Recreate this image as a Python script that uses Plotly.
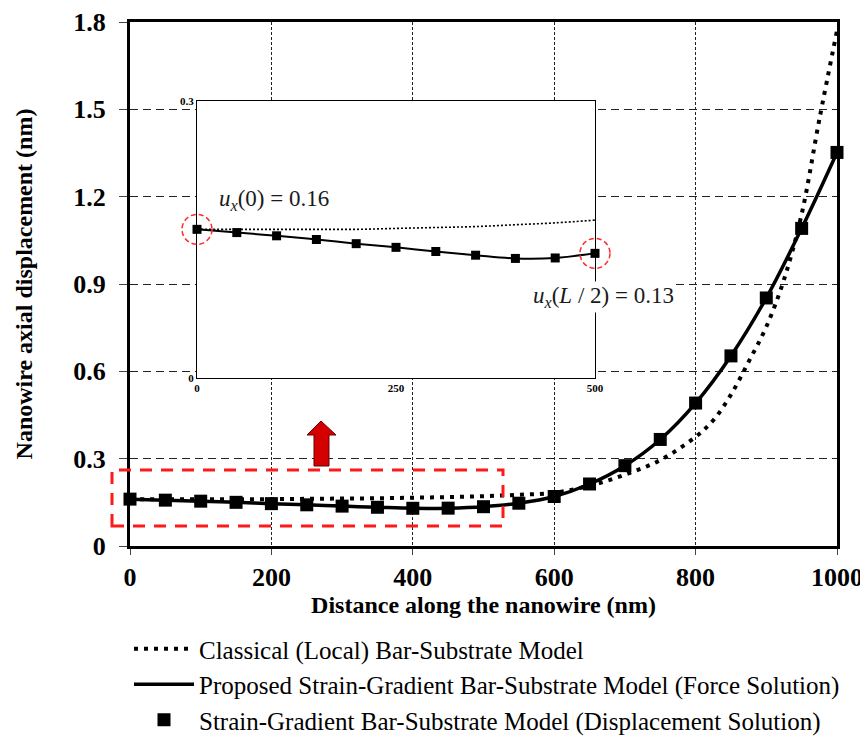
import plotly.graph_objects as go

# ---------------- data ----------------
classical_x = [0, 50, 100, 150, 200, 250, 300, 350, 400, 450, 500, 550, 600, 650,
               700, 750, 800, 825, 850, 875, 900, 925, 950, 975, 1000]
classical_y = [0.161, 0.161, 0.161, 0.161, 0.161, 0.162, 0.163, 0.164, 0.166, 0.168,
               0.171, 0.176, 0.183, 0.207, 0.245, 0.295, 0.375, 0.432, 0.520, 0.633,
               0.753, 0.915, 1.140, 1.465, 1.770]

force_x = [0, 50, 100, 150, 200, 250, 300, 350, 400, 450, 500, 550, 600, 650, 700,
           750, 800, 850, 900, 950, 1000]
force_y = [0.161, 0.1575, 0.154, 0.150, 0.1455, 0.1415, 0.137, 0.133, 0.1295, 0.130,
           0.135, 0.147, 0.170, 0.213, 0.276, 0.366, 0.491, 0.653, 0.852, 1.091, 1.352]

disp_x = [0, 50, 100, 150, 200, 250, 300, 350, 400, 450, 500, 550, 600, 650, 700,
          750, 800, 850, 900, 950, 1000]
disp_y = [0.161, 0.1575, 0.154, 0.150, 0.1455, 0.1415, 0.137, 0.133, 0.1295, 0.130,
          0.135, 0.147, 0.170, 0.213, 0.276, 0.366, 0.491, 0.653, 0.852, 1.091, 1.352]

x_ticks = [0, 200, 400, 600, 800, 1000]
x_ticklabels = ["0", "200", "400", "600", "800", "1000"]
y_ticks = [0, 0.3, 0.6, 0.9, 1.2, 1.5, 1.8]
y_ticklabels = ["0", "0.3", "0.6", "0.9", "1.2", "1.5", "1.8"]

inset_x_ticks = [0, 250, 500]
inset_x_ticklabels = ["0", "250", "500"]
inset_y_ticks = [0, 0.3]
inset_y_ticklabels = ["0", "0.3"]
inset_x_max = 500
inset_y_max = 0.3

names = ["Classical (Local) Bar-Substrate Model",
         "Proposed Strain-Gradient Bar-Substrate Model (Force Solution)",
         "Strain-Gradient Bar-Substrate Model (Displacement Solution)"]

# ---------------- layout geometry ----------------
OFF = 8                      # page body margin
W, H = 868 - OFF, 738 - OFF
ML, MT = 130 - OFF, 22 - OFF
MR = W - (837 - OFF)
MB = H - (546 - OFF)
PW, PH = W - ML - MR, H - MT - MB


def pp(px, py):
    """screen pixel -> paper coordinates"""
    fx, fy = px - OFF, py - OFF
    return (fx - ML) / PW, (H - MB - fy) / PH


FONT = "Liberation Serif, Times New Roman, serif"

inset_x0, inset_y1 = pp(197, 101)
inset_x1, inset_y0 = pp(595, 378)


def inset_to_paper(x, y):
    return (inset_x0 + x / inset_x_max * (inset_x1 - inset_x0),
            inset_y0 + y / inset_y_max * (inset_y1 - inset_y0))


fig = go.Figure()

# main traces
fig.add_trace(go.Scatter(x=classical_x, y=classical_y, mode="lines", name=names[0],
                         line=dict(color="black", width=4, dash="4px,6px", shape="spline"),
                         cliponaxis=False, legendgroup="a"))
fig.add_trace(go.Scatter(x=force_x, y=force_y, mode="lines", name=names[1],
                         line=dict(color="black", width=3.5, shape="spline"),
                         cliponaxis=False, legendgroup="b"))
fig.add_trace(go.Scatter(x=disp_x, y=disp_y, mode="markers", name=names[2],
                         marker=dict(symbol="square", size=13, color="black"),
                         cliponaxis=False, legendgroup="c"))

# inset traces
ins_c = [(x, y) for x, y in zip(classical_x, classical_y) if x <= inset_x_max]
ins_f = [(x, y) for x, y in zip(force_x, force_y) if x <= inset_x_max]
ins_d = [(x, y) for x, y in zip(disp_x, disp_y) if x <= inset_x_max]
fig.add_trace(go.Scatter(x=[p[0] for p in ins_c], y=[p[1] for p in ins_c], mode="lines",
                         line=dict(color="black", width=1.6, dash="2px,2px", shape="spline"),
                         xaxis="x2", yaxis="y2", showlegend=False, cliponaxis=False))
fig.add_trace(go.Scatter(x=[p[0] for p in ins_f], y=[p[1] for p in ins_f], mode="lines",
                         line=dict(color="black", width=2, shape="spline"),
                         xaxis="x2", yaxis="y2", showlegend=False, cliponaxis=False))
fig.add_trace(go.Scatter(x=[p[0] for p in ins_d], y=[p[1] for p in ins_d], mode="markers",
                         marker=dict(symbol="square", size=9, color="black"),
                         xaxis="x2", yaxis="y2", showlegend=False, cliponaxis=False))

shapes = []
# white background of the inset (covers main grid)
shapes.append(dict(type="rect", xref="x2", yref="y2", x0=0, x1=inset_x_max, y0=0, y1=inset_y_max,
                   fillcolor="white", line=dict(width=0), layer="below"))
# red dashed highlight rectangle in main plot
rx0, ry0 = pp(112, 526)
rx1, ry1 = pp(503, 470)
shapes.append(dict(type="rect", xref="paper", yref="paper", x0=rx0, x1=rx1, y0=ry0, y1=ry1,
                   line=dict(color="#ff1a1a", width=3, dash="12px,9px"), layer="above"))
# red arrow
pts = [(321, 421), (336, 435), (329, 435), (329, 466), (314, 466), (314, 435), (307, 435)]
path = "M " + " L ".join(f"{pp(a, b)[0]:.5f},{pp(a, b)[1]:.5f}" for a, b in pts) + " Z"
shapes.append(dict(type="path", xref="paper", yref="paper", path=path,
                   fillcolor="#d40000", line=dict(color="#6b0000", width=1), layer="above"))
# dashed circles in inset at the two highlighted values
for xa, ya in [(force_x[0], force_y[0]), (ins_f[-1][0], ins_f[-1][1])]:
    cx, cy = inset_to_paper(xa, ya)
    shapes.append(dict(type="circle", xref="paper", yref="paper", xsizemode="pixel",
                       ysizemode="pixel", xanchor=cx, yanchor=cy, x0=-15, x1=15, y0=-15, y1=15,
                       line=dict(color="#ff2a2a", width=1.5, dash="5px,3px"), layer="above"))

annotations = [
    dict(xref="x2", yref="y2", x=25, y=0.193, xanchor="left", yanchor="middle",
         text="<i>u</i><sub><i>x</i></sub>(0) = 0.16", showarrow=False,
         font=dict(family=FONT, size=23, color="#1a1a1a")),
    dict(xref="x2", yref="y2", x=420, y=0.0877, xanchor="left", yanchor="middle",
         text="<i>u</i><sub><i>x</i></sub>(<i>L</i> / 2) = 0.13", showarrow=False,
         bgcolor="white", font=dict(family=FONT, size=23, color="#1a1a1a")),
]

lgx, lgy = pp(129, 626)

fig.update_layout(
    width=W, height=H,
    margin=dict(l=ML, r=MR, t=MT, b=MB, autoexpand=False),
    paper_bgcolor="white", plot_bgcolor="white",
    font=dict(family=FONT, color="black"),
    showlegend=True,
    legend=dict(x=lgx, y=lgy, xanchor="left", yanchor="top", orientation="v",
                font=dict(family=FONT, size=25, color="black"), bgcolor="rgba(0,0,0,0)",
                tracegroupgap=0, itemwidth=60),
    xaxis=dict(range=[0, 1000], tickvals=x_ticks, ticktext=x_ticklabels,
               showline=True, linewidth=3, linecolor="black", mirror=True,
               showgrid=True, gridcolor="#222", gridwidth=1, griddash="3px,2px",
               ticks="outside", ticklen=6, tickcolor="#444", tickwidth=1,
               tickfont=dict(family=FONT, size=26, color="black", weight="bold"),
               zeroline=False,
               title=dict(text="<b>Distance along the nanowire (nm)</b>", standoff=5,
                          font=dict(family=FONT, size=24, color="black"))),
    yaxis=dict(range=[0, 1.8], tickvals=y_ticks, ticktext=y_ticklabels,
               showline=True, linewidth=3, linecolor="black", mirror=True,
               showgrid=True, gridcolor="#222", gridwidth=1, griddash="8px,5px",
               ticks="outside", ticklen=8, tickcolor="#444", tickwidth=1,
               ticklabelstandoff=8,
               tickfont=dict(family=FONT, size=26, color="black", weight="bold"),
               zeroline=False,
               title=dict(text="<b>Nanowire axial displacement (nm)</b>", standoff=34,
                          font=dict(family=FONT, size=24, color="black"))),
    xaxis2=dict(domain=[inset_x0, inset_x1], anchor="y2", range=[0, inset_x_max],
                tickvals=inset_x_ticks, ticktext=inset_x_ticklabels,
                showline=True, linewidth=1.2, linecolor="black", mirror=True,
                showgrid=False, zeroline=False, ticks="",
                tickfont=dict(family=FONT, size=11, color="black", weight="bold")),
    yaxis2=dict(domain=[inset_y0, inset_y1], anchor="x2", range=[0, inset_y_max],
                tickvals=inset_y_ticks, ticktext=inset_y_ticklabels,
                showline=True, linewidth=1.2, linecolor="black", mirror=True,
                showgrid=False, zeroline=False, ticks="",
                tickfont=dict(family=FONT, size=11, color="black", weight="bold")),
    shapes=shapes,
    annotations=annotations,
)

fig.write_html("out.html")
